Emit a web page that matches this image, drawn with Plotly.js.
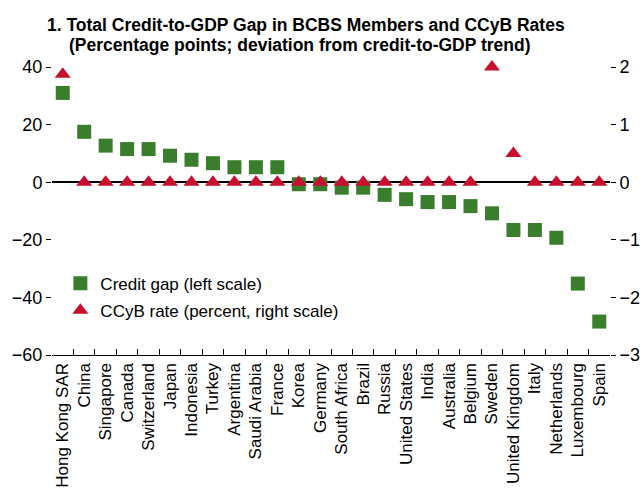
<!DOCTYPE html>
<html>
<head>
<meta charset="utf-8">
<script src="https://cdn.plot.ly/plotly-3.0.1.min.js"></script>
<style>html,body{margin:0;padding:0;background:#fff;}#chart{width:642px;height:493px;}</style>
</head>
<body>
<div id="chart"></div>
<script>
var countries = ["Hong Kong SAR","China","Singapore","Canada","Switzerland","Japan","Indonesia","Turkey","Argentina","Saudi Arabia","France","Korea","Germany","South Africa","Brazil","Russia","United States","India","Australia","Belgium","Sweden","United Kingdom","Italy","Netherlands","Luxembourg","Spain"];
var creditGap = [31, 17.5, 12.7, 11.5, 11.5, 9.2, 7.8, 6.6, 5.2, 5.2, 5.2, -0.7, -0.7, -1.9, -1.9, -4.4, -5.9, -6.9, -6.9, -8.3, -10.8, -16.6, -16.6, -19.3, -35.2, -48.4];
var ccybRate = [1.875, 0, 0, 0, 0, 0, 0, 0, 0, 0, 0, 0, 0, 0, 0, 0, 0, 0, 0, 0, 2, 0.5, 0, 0, 0, 0];
var leftTicks = [-60, -40, -20, 0, 20, 40];
var rightTicks = [-3, -2, -1, 0, 1, 2];

var FONT = "'Liberation Sans', Arial, sans-serif";

var traces = [
  {
    x: countries, y: creditGap, type: "scatter", mode: "markers",
    name: "Credit gap (left scale)", legendgroup: "a",
    marker: {symbol: "square", size: 14, color: "#3a7d2c"},
    cliponaxis: false, hoverinfo: "skip"
  },
  {
    x: countries, y: ccybRate, type: "scatter", mode: "markers", yaxis: "y2",
    name: "CCyB rate (percent, right scale)", legendgroup: "b",
    marker: {symbol: "triangle-up", size: 14, color: "#c8102e"},
    cliponaxis: false, hoverinfo: "skip"
  }
];

function fmt(v){ return v < 0 ? "\u2212" + (-v) : String(v); }

var layout = {
  width: 642, height: 493,
  margin: {l: 52, r: 32, t: 67, b: 138, pad: 0},
  paper_bgcolor: "#fff", plot_bgcolor: "#fff",
  font: {family: FONT, size: 17, color: "#000"},
  showlegend: true,
  legend: {x: 0.015, y: 0.31, xanchor: "left", yanchor: "top", bgcolor: "rgba(0,0,0,0)",
           font: {family: FONT, size: 17, color: "#000"}, traceorder: "grouped", tracegroupgap: 2},
  xaxis: {
    type: "category", range: [-0.5, 25.5], tickangle: -90,
    tickmode: "array", tickvals: countries, ticktext: countries,
    showgrid: false, zeroline: false, showline: true, linecolor: "#000", linewidth: 1.2,
    ticks: "inside", tickson: "boundaries", ticklen: 6, tickcolor: "#000", tickwidth: 1,
    tickfont: {family: FONT, size: 17, color: "#000"}, automargin: false
  },
  yaxis: {
    range: [-60, 40], tickvals: leftTicks, ticktext: leftTicks.map(fmt),
    showgrid: false, showline: false, zeroline: true, zerolinecolor: "#000", zerolinewidth: 1.5,
    ticks: "outside", ticklen: 5, tickcolor: "#000", tickwidth: 1,
    tickfont: {family: FONT, size: 18, color: "#000"}, automargin: false
  },
  yaxis2: {
    range: [-3, 2], overlaying: "y", side: "right", tickvals: rightTicks, ticktext: rightTicks.map(fmt),
    showgrid: false, showline: false, zeroline: false,
    ticks: "outside", ticklen: 5, tickcolor: "#000", tickwidth: 1,
    tickfont: {family: FONT, size: 18, color: "#000"}, automargin: false
  },
  annotations: [
    {text: "<b>1. Total Credit-to-GDP Gap in BCBS Members and CCyB Rates</b>", xref: "paper", yref: "paper",
     x: -0.0125, y: 1.145, xanchor: "left", yanchor: "middle", showarrow: false,
     font: {family: FONT, size: 17.5, color: "#000"}},
    {text: "<b>(Percentage points; deviation from credit-to-GDP trend)</b>", xref: "paper", yref: "paper",
     x: 0.027, y: 1.075, xanchor: "left", yanchor: "middle", showarrow: false,
     font: {family: FONT, size: 17.5, color: "#000"}}
  ]
};

Plotly.newPlot("chart", traces, layout, {staticPlot: true, displayModeBar: false});
</script>
</body>
</html>
